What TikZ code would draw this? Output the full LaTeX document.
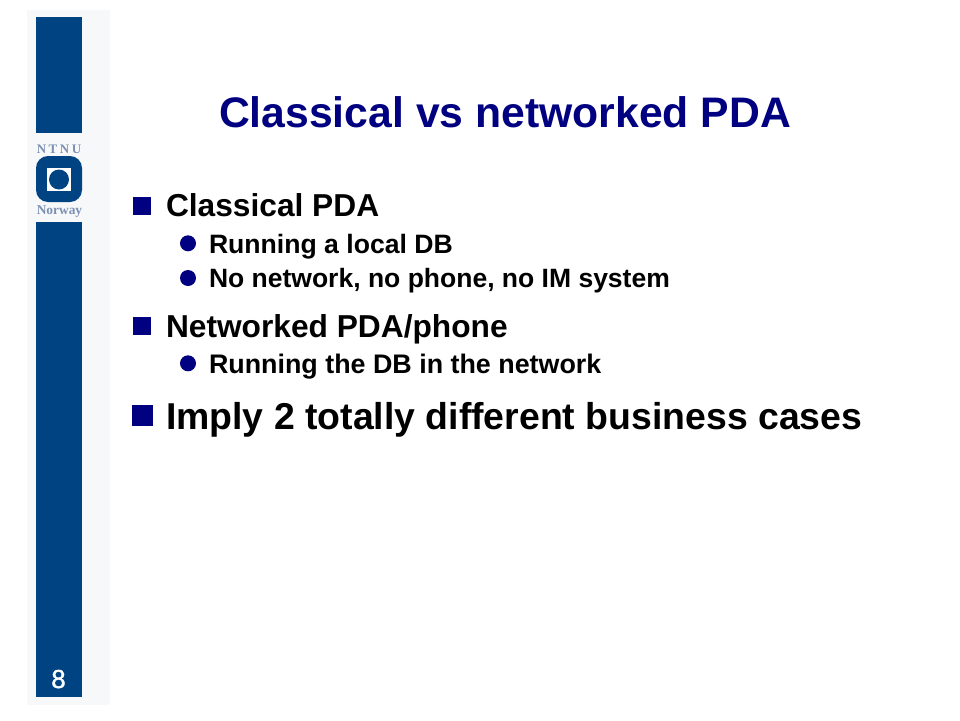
\documentclass[tikz,border=0pt]{standalone}
\usepackage{fontspec}
\setmainfont{Liberation Sans}
\newfontfamily\serifface{Liberation Serif}
\newfontfamily\numface[FakeBold=1.2]{Liberation Sans}
\definecolor{barblue}{HTML}{004383}
\definecolor{panelgrey}{HTML}{F7F8FA}
\definecolor{titleblue}{HTML}{000080}
\definecolor{logotext}{HTML}{7C90B4}
\tikzset{
  txt/.style={anchor=base west,inner sep=0pt,outer sep=0pt,text=black},
  lvlone/.style={txt,font=\fontsize{31.7}{32}\selectfont\bfseries},
  lvltwo/.style={txt,font=\fontsize{26.6}{27}\selectfont\bfseries},
  lvlbig/.style={txt,font=\fontsize{37.4}{38}\selectfont\bfseries},
  squarebullet/.style={fill=titleblue,draw=none,minimum size=18pt,inner sep=0pt,outer sep=0pt},
  roundbullet/.style={circle,fill=titleblue,draw=none,minimum size=16pt,inner sep=0pt,outer sep=0pt},
}
\begin{document}
\begin{tikzpicture}[x=1pt,y=-1pt]
\useasboundingbox (0,0) rectangle (960,720);
\fill[white] (0,0) rectangle (960,720);
\fill[panelgrey] (27,10) rectangle (110,705);
\fill[barblue] (36,17) rectangle (82,133);
\fill[barblue] (36,222) rectangle (82,697);
\fill[barblue,rounded corners=12pt] (36,156) rectangle (82,202);
\fill[white] (47,168) rectangle (71,191);
\fill[barblue] (59,179.5) circle (10);
\node[inner sep=0pt,text=logotext,font=\serifface\fontsize{13}{13}\selectfont\bfseries,anchor=base] (ntnu) at (59,153) {N\kern2.5pt T\kern2.5pt N\kern2.5pt U};
\node[inner sep=0pt,text=logotext,font=\serifface\fontsize{13.4}{14}\selectfont\bfseries,anchor=base] (norway) at (59.5,214) {Norway};
\node[inner sep=0pt,text=white,font=\numface\fontsize{26}{26}\selectfont,anchor=base] (pagenum) at (58.5,688) {8};
\node[anchor=base,inner sep=0pt,text=titleblue,font=\fontsize{42.7}{43}\selectfont\bfseries] (title) at (505,127) {Classical vs networked PDA};
\node[squarebullet] (b1) at (141.5,205.5) {};
\node[lvlone] (t1) at (166,216) {Classical PDA};
\node[roundbullet] (b2) at (188,243.3) {};
\node[lvltwo] (t2) at (209,253.5) {Running a local DB};
\node[roundbullet] (b3) at (188,278) {};
\node[lvltwo,font=\fontsize{26.5}{27}\selectfont\bfseries] (t3) at (209,287) {No network, no phone, no IM system};
\node[squarebullet] (b4) at (141.5,325.5) {};
\node[lvlone] (t4) at (166,337) {Networked PDA/phone};
\node[roundbullet] (b5) at (188,363.3) {};
\node[lvltwo,font=\fontsize{26.85}{27}\selectfont\bfseries] (t5) at (209,373) {Running the DB in the network};
\node[squarebullet,minimum size=21pt] (b6) at (142.5,415.5) {};
\node[lvlbig] (t6) at (166,429) {Imply 2 totally different business cases};
\end{tikzpicture}
\end{document}
